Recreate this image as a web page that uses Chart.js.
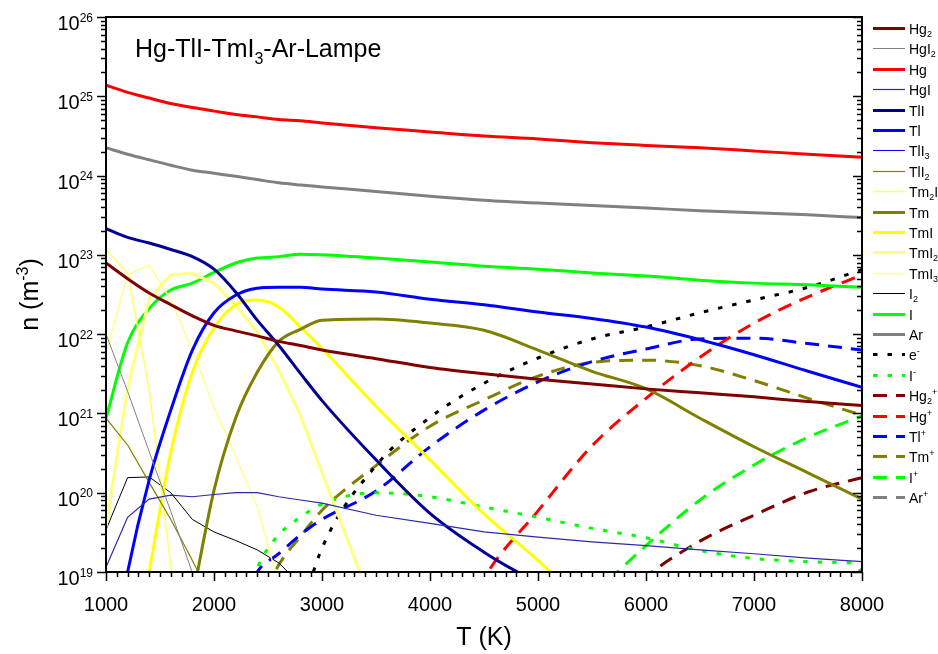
<!DOCTYPE html>
<html lang="de">
<head>
<meta charset="UTF-8">
<title>Hg-TlI-TmI3-Ar-Lampe</title>
<script src="https://cdn.jsdelivr.net/npm/chart.js"></script>
<style>
    html, body { margin: 0; padding: 0; background: #fff; }
    #wrap { width: 938px; height: 654px; }
</style>
</head>
<body>
<div id="wrap"><canvas id="plasma" width="938" height="654"></canvas></div>
<script>
// Temperaturgitter (K)
const temps = [1000, 1200, 1400, 1600, 1800, 2000, 2200, 2400, 2600, 2800, 3000,
               3500, 4000, 4500, 5000, 5500, 6000, 6500, 7000, 7500, 8000];

// Teilchendichten n (m^-3), gleiche Reihenfolge wie temps
const hg2    = [7.9e22, 5.0e22, 3.3e22, 2.35e22, 1.7e22, 1.29e22, 1.1e22, 9.5e21, 8.1e21, 7.2e21, 6.3e21,
                4.9e21, 3.8e21, 3.16e21, 2.7e21, 2.35e21, 2.04e21, 1.82e21, 1.62e21, 1.41e21, 1.26e21];
const hgi2   = [1.0e22, 1.9e21, 3.3e20, 5.8e19, 9.8e18, 1.6e18];
const hg     = [1.38e25, 1.12e25, 9.5e24, 8.1e24, 7.2e24, 6.5e24, 5.9e24, 5.5e24, 5.1e24, 4.9e24, 4.6e24,
                4.0e24, 3.55e24, 3.16e24, 2.9e24, 2.6e24, 2.4e24, 2.24e24, 2.04e24, 1.86e24, 1.7e24];
const hgi    = [1.15e19, 4.9e19, 8.3e19, 9.3e19, 8.9e19, 9.5e19, 1.0e20, 1.0e20, 8.9e19, 8.1e19, 7.4e19,
                5.2e19, 4.1e19, 3.2e19, 2.75e19, 2.4e19, 2.15e19, 1.9e19, 1.7e19, 1.5e19, 1.35e19];
const tli    = [2.14e23, 1.66e23, 1.41e23, 1.17e23, 9.5e22, 6.6e22, 3.4e22, 1.5e22, 7.2e21, 3.2e21, 1.45e21,
                2.6e20, 5.5e19, 1.78e19, 7e18, 2.5e18];
const thallium = [3e17, 1.0e19, 1.45e20, 1.1e21, 6.3e21, 1.86e22, 3.1e22, 3.8e22, 3.9e22, 3.9e22, 3.7e22,
                3.4e22, 2.75e22, 2.35e22, 1.9e22, 1.58e22, 1.23e22, 8.5e21, 5.5e21, 3.4e21, 2.14e21];
const tli3   = [];
const tli2   = [8.7e20, 4.0e20, 1.35e20, 4.6e19, 1.4e19, 4e18];
const tm2i   = [1.17e23, 5.9e22, 2.0e21, 1.2e19, 2.5e17];
const thulium = [null, null, null, null, 4.6e18, 1.07e20, 8.7e20, 3.3e21, 8.1e21, 1.15e22, 1.5e22,
                1.55e22, 1.38e22, 1.12e22, 6.3e21, 3.4e21, 2.05e21, 8.7e20, 3.8e20, 1.78e20, 8.3e19];
const tmi    = [null, 3e17, 1.0e19, 3.2e20, 3.3e21, 1.2e22, 2.35e22, 2.7e22, 2.2e22, 1.23e22, 6.6e21,
                1.23e21, 2.6e20, 5.4e19, 1.4e19, 3.2e18];
const tmi2   = [3.7e19, 2.1e21, 2.8e22, 5.6e22, 5.8e22, 4.4e22, 2.3e22, 1.07e22, 3.5e21, 9.5e20, 1.8e20,
                2.9e18];
const tmi3   = [5.8e21, 5.6e22, 7.4e22, 2.7e22, 6.3e21, 1.2e21, 2.9e20, 6.6e19, 7e18];
const i2     = [3.4e19, 1.55e20, 1.58e20, 1.0e20, 4.6e19, 3.2e19, 2.5e19, 1.9e19, 1.3e19, 7e18];
const iodine = [8.7e20, 7.8e21, 2.1e22, 3.6e22, 4.4e22, 6.0e22, 7.9e22, 9.1e22, 9.5e22, 1.02e23, 1.0e23,
                9.1e22, 8.1e22, 7.2e22, 6.6e22, 5.9e22, 5.4e22, 4.8e22, 4.4e22, 4.2e22, 3.9e22];
const argon  = [2.24e24, 1.86e24, 1.58e24, 1.35e24, 1.17e24, 1.07e24, 9.8e23, 8.9e23, 8.1e23, 7.6e23, 7.2e23,
                6.3e23, 5.5e23, 4.9e23, 4.5e23, 4.2e23, 3.9e23, 3.6e23, 3.4e23, 3.2e23, 2.95e23];
const elec   = [null, null, null, null, null, null, null, null, null, 3e18, 2.0e19,
                2.2e20, 8.9e20, 2.4e21, 5.0e21, 8.7e21, 1.23e22, 1.86e22, 2.7e22, 3.9e22, 6.5e22];
const iMinus = [null, null, null, null, null, null, 1.6e18, 1.12e19, 2.95e19, 4.9e19, 7.2e19,
                1.0e20, 8.9e19, 6.6e19, 4.9e19, 3.55e19, 2.7e19, 1.86e19, 1.48e19, 1.35e19, 1.3e19];
const hg2Ion = [null, null, null, null, null, null, null, null, null, null, null,
                null, null, null, null, 2e18, 8.7e18, 2.45e19, 5.2e19, 1.02e20, 1.55e20];
const hgIon  = [null, null, null, null, null, null, null, null, null, null, null,
                null, 3e17, 8.3e18, 5.9e19, 3.9e20, 1.55e21, 5.1e21, 1.38e22, 2.95e22, 5.6e22];
const tlIon  = [null, null, null, null, null, null, 2.5e18, 1.0e19, 1.7e19, 2.95e19, 4.6e19,
                1.05e20, 3.8e20, 1.1e21, 2.5e21, 4.5e21, 6.5e21, 8.7e21, 8.9e21, 7.6e21, 6.3e21];
const tmIon  = [null, null, null, null, null, null, null, 3.2e18, 1.23e19, 2.8e19, 6.0e19,
                2.2e20, 6.9e20, 1.48e21, 2.95e21, 4.4e21, 4.7e21, 4.0e21, 2.6e21, 1.55e21, 9.5e20];
const iIon   = [null, null, null, null, null, null, null, null, null, null, null,
                null, null, null, null, 5e18, 2.15e19, 8.1e19, 2.24e20, 5.0e20, 9.3e20];
const arIon  = [null, null, null, null, null, null, null, null, null, null, null,
                null, null, null, null, null, null, null, null, 2.5e18, 1.1e19];

// Achsenbeschriftung
const xTickLabels = [1000, 2000, 3000, 4000, 5000, 6000, 7000, 8000];
const yExponents = [19, 20, 21, 22, 23, 24, 25, 26];

const FONT = '"Liberation Sans", Arial, Helvetica, sans-serif';
const DOT = [4.5, 10];
const DASH = [14, 9];

// Legendentext als Teile: [text, 'sub' | 'sup']
const series = [
    { parts: [['Hg'], ['2', 'sub']],               data: hg2,      color: '#800000', width: 3, smooth: true },
    { parts: [['HgI'], ['2', 'sub']],              data: hgi2,     color: '#808080', width: 1 },
    { parts: [['Hg']],                             data: hg,       color: '#ff0000', width: 3, smooth: true },
    { parts: [['HgI']],                            data: hgi,      color: '#2a2aa8', width: 1.2 },
    { parts: [['TlI']],                            data: tli,      color: '#000096', width: 3, smooth: true },
    { parts: [['Tl']],                             data: thallium, color: '#0000ff', width: 3, smooth: true },
    { parts: [['TlI'], ['3', 'sub']],              data: tli3,     color: '#0000ff', width: 1 },
    { parts: [['TlI'], ['2', 'sub']],              data: tli2,     color: '#808000', width: 1.2 },
    { parts: [['Tm'], ['2', 'sub'], ['I']],        data: tm2i,     color: '#ffff66', width: 1.5 },
    { parts: [['Tm']],                             data: thulium,  color: '#808000', width: 3, smooth: true },
    { parts: [['TmI']],                            data: tmi,      color: '#ffff00', width: 3, smooth: true },
    { parts: [['TmI'], ['2', 'sub']],              data: tmi2,     color: '#ffff80', width: 3 },
    { parts: [['TmI'], ['3', 'sub']],              data: tmi3,     color: '#ffff90', width: 1.5 },
    { parts: [['I'], ['2', 'sub']],                data: i2,       color: '#000000', width: 1 },
    { parts: [['I']],                              data: iodine,   color: '#00ff00', width: 3, smooth: true },
    { parts: [['Ar']],                             data: argon,    color: '#808080', width: 3, smooth: true },
    { parts: [['e'], ['-', 'sup']],                data: elec,     color: '#000000', width: 3, dash: DOT, smooth: true },
    { parts: [['I'], ['-', 'sup']],                data: iMinus,   color: '#00ff00', width: 3, dash: DOT, smooth: true },
    { parts: [['Hg'], ['2', 'sub'], ['+', 'sup']], data: hg2Ion,   color: '#800000', width: 3, dash: DASH, smooth: true },
    { parts: [['Hg'], ['+', 'sup']],               data: hgIon,    color: '#ff0000', width: 3, dash: DASH, smooth: true },
    { parts: [['Tl'], ['+', 'sup']],               data: tlIon,    color: '#0000ff', width: 3, dash: DASH, smooth: true },
    { parts: [['Tm'], ['+', 'sup']],               data: tmIon,    color: '#808000', width: 3, dash: DASH, smooth: true },
    { parts: [['I'], ['+', 'sup']],                data: iIon,     color: '#00ff00', width: 3, dash: DASH, smooth: true },
    { parts: [['Ar'], ['+', 'sup']],               data: arIon,    color: '#808080', width: 3, dash: DASH, smooth: true }
];

// Text mit Tief-/Hochstellung zeichnen
function partFont(kind, size) {
    return (kind ? Math.round(size * 0.62) : size) + 'px ' + FONT;
}
function richWidth(ctx, parts, size) {
    let w = 0;
    parts.forEach(p => { ctx.font = partFont(p[1], size); w += ctx.measureText(p[0]).width; });
    return w;
}
function drawRich(ctx, parts, x, baseline, size, align) {
    const w = richWidth(ctx, parts, size);
    let cx = align === 'center' ? x - w / 2 : align === 'right' ? x - w : x;
    ctx.textAlign = 'left';
    ctx.textBaseline = 'alphabetic';
    parts.forEach(p => {
        ctx.font = partFont(p[1], size);
        let dy = 0;
        if (p[1] === 'sub') dy = size * 0.28;
        if (p[1] === 'sup') dy = -size * 0.42;
        ctx.fillText(p[0], cx, baseline + dy);
        cx += ctx.measureText(p[0]).width;
    });
}

const axesAndLabels = {
    id: 'axesAndLabels',
    afterDraw(chart) {
        const { ctx, chartArea: a } = chart;
        const xs = chart.scales.x, ys = chart.scales.y;
        ctx.save();
        ctx.strokeStyle = '#000';
        ctx.fillStyle = '#000';

        // Rahmen
        ctx.lineWidth = 2;
        ctx.strokeRect(a.left, a.top, a.right - a.left, a.bottom - a.top);

        // Teilstriche
        ctx.lineWidth = 1.5;
        ctx.beginPath();
        yExponents.forEach(e => {
            for (let k = 1; k <= 9; k++) {
                if (e === 26 && k > 1) break;
                const py = Math.round(ys.getPixelForValue(k * Math.pow(10, e))) + 0.5;
                const len = k === 1 ? 9 : 5;
                ctx.moveTo(a.left - len, py); ctx.lineTo(a.left, py);
                ctx.moveTo(a.right, py); ctx.lineTo(a.right - len, py);
            }
        });
        for (let t = 1000; t <= 8000; t += 100) {
            const px = Math.round(xs.getPixelForValue(t)) + 0.5;
            const len = t % 1000 === 0 ? 9 : 5;
            ctx.moveTo(px, a.bottom); ctx.lineTo(px, a.bottom + len);
        }
        ctx.stroke();

        // Achsenzahlen
        xTickLabels.forEach(t => {
            drawRich(ctx, [[String(t)]], xs.getPixelForValue(t), a.bottom + 39, 20, 'center');
        });
        yExponents.forEach(e => {
            const py = ys.getPixelForValue(Math.pow(10, e));
            drawRich(ctx, [['10'], [String(e), 'sup']], a.left - 13, py + 13, 20, 'right');
        });

        // Achsentitel
        drawRich(ctx, [['T (K)']], (a.left + a.right) / 2, 645, 25, 'center');
        ctx.save();
        ctx.translate(38, (a.top + a.bottom) / 2);
        ctx.rotate(-Math.PI / 2);
        drawRich(ctx, [['n (m'], ['-3', 'sup'], [')']], 0, 0, 25, 'center');
        ctx.restore();

        // Titel im Diagramm
        drawRich(ctx, [['Hg-TlI-TmI'], ['3', 'sub'], ['-Ar-Lampe']], a.left + 29, 57, 25, 'left');

        // Legende
        series.forEach((s, i) => {
            const cy = Math.round(28 + 20.4 * i) + 0.5;
            ctx.beginPath();
            ctx.strokeStyle = s.color;
            ctx.lineWidth = s.width;
            ctx.setLineDash(s.dash || []);
            ctx.moveTo(873, cy); ctx.lineTo(905, cy);
            ctx.stroke();
            ctx.setLineDash([]);
            drawRich(ctx, s.parts, 909, cy + 5, 14, 'left');
        });
        ctx.restore();
    }
};

new Chart(document.getElementById('plasma'), {
    type: 'line',
    data: {
        datasets: series.map(s => ({
            label: s.parts.map(p => p[0]).join(''),
            data: temps.map((t, i) => ({ x: t, y: s.data[i] ?? null })).filter(p => p.y !== null),
            borderColor: s.color,
            borderWidth: s.width,
            borderDash: s.dash || [],
            borderCapStyle: 'butt',
            cubicInterpolationMode: s.smooth ? 'monotone' : 'default',
            tension: 0,
            pointRadius: 0,
            fill: false
        }))
    },
    options: {
        responsive: false,
        animation: false,
        devicePixelRatio: 1,
        layout: { padding: { left: 106, right: 76, top: 17, bottom: 82 } },
        plugins: { legend: { display: false }, tooltip: { enabled: false } },
        scales: {
            x: { type: 'linear', min: 1000, max: 8000, display: false },
            y: { type: 'logarithmic', min: 1e19, max: 1e26, display: false }
        }
    },
    plugins: [axesAndLabels]
});
</script>
</body>
</html>
